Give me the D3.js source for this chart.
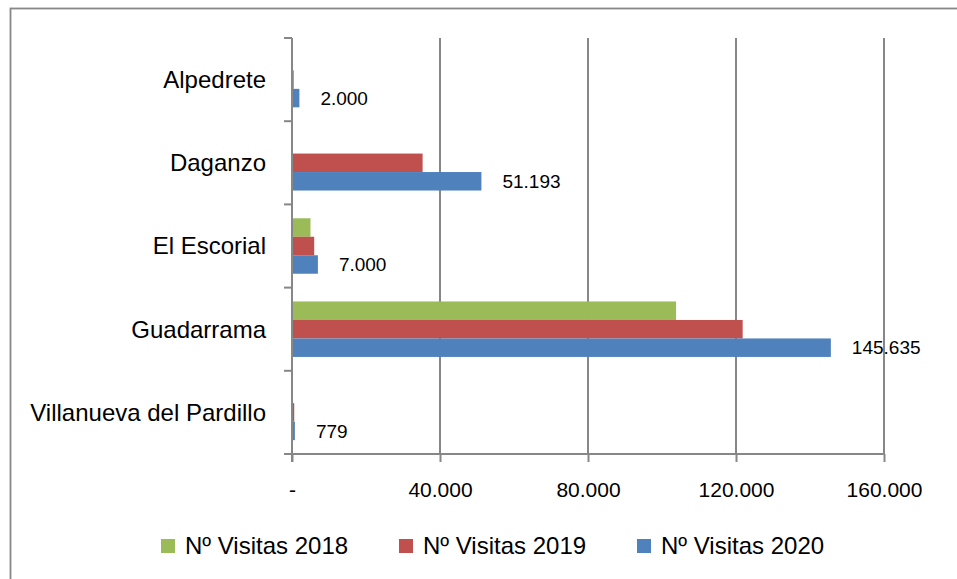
<!DOCTYPE html>
<html>
<head>
<meta charset="utf-8">
<script src="https://cdn.jsdelivr.net/npm/d3@7"></script>
<style>
  html, body { margin: 0; padding: 0; background: #fff; }
  svg { display: block; }
  text { font-family: "Liberation Sans", Arial, sans-serif; fill: #000; }
</style>
</head>
<body>
<svg id="chart" width="957" height="579"></svg>
<script>
// ---- data ----
const categories = ["Alpedrete", "Daganzo", "El Escorial", "Guadarrama", "Villanueva del Pardillo"];
const seriesNames = ["Nº Visitas 2018", "Nº Visitas 2019", "Nº Visitas 2020"];
const visitas2018 = [0, 0, 5000, 103800, 0];
const visitas2019 = [450, 35300, 6000, 121800, 600];
const visitas2020 = [2000, 51193, 7000, 145635, 779];
const xTicks = [0, 40000, 80000, 120000, 160000];
const seriesColors = ["#9BBB59", "#C0504D", "#4F81BD"];

const seriesValues = [visitas2018, visitas2019, visitas2020];

// ---- layout ----
const svg = d3.select("#chart");
const W = 957, H = 579;
const plot = { left: 292, right: 884, top: 38, bottom: 454 };
const gridColor = "#878787";

const es = d3.formatLocale({ decimal: ",", thousands: ".", grouping: [3], currency: ["", "€"] });
const fmt = es.format(",.0f");

// outer border (cropped at right and bottom like the reference)
svg.append("rect")
  .attr("x", 10.5).attr("y", 8.5)
  .attr("width", W + 20).attr("height", H + 20)
  .attr("fill", "none").attr("stroke", gridColor).attr("stroke-width", 1.8);

const x = d3.scaleLinear().domain([0, 160000]).range([plot.left, plot.right]);
const y = d3.scaleBand().domain(categories).range([plot.top, plot.bottom]).padding(0);
const ySub = d3.scaleBand().domain(seriesNames).range([0, y.bandwidth()])
  .paddingInner(0).paddingOuter(0.75);

// gridlines
svg.append("g").selectAll("line")
  .data(xTicks.filter(d => d > 0))
  .join("line")
  .attr("x1", d => x(d)).attr("x2", d => x(d))
  .attr("y1", plot.top).attr("y2", plot.bottom)
  .attr("stroke", gridColor).attr("stroke-width", 2);

// bars
const barG = svg.append("g");
seriesNames.forEach((s, si) => {
  barG.append("g").selectAll("rect")
    .data(categories.map((c, i) => ({ c, v: seriesValues[si][i] })))
    .join("rect")
    .attr("x", x(0))
    .attr("y", d => y(d.c) + ySub(s))
    .attr("width", d => x(d.v) - x(0))
    .attr("height", ySub.bandwidth())
    .attr("fill", seriesColors[si]);
});

// data labels for 2020
svg.append("g").selectAll("text")
  .data(categories.map((c, i) => ({ c, v: visitas2020[i] })))
  .join("text")
  .attr("x", d => x(d.v) + 21)
  .attr("y", d => y(d.c) + ySub(seriesNames[2]) + ySub.bandwidth() / 2)
  .attr("dy", "0.35em")
  .attr("font-size", 19)
  .text(d => fmt(d.v));

// x axis
const xAxis = d3.axisBottom(x)
  .tickValues(xTicks)
  .tickFormat(d => d === 0 ? "-" : fmt(d))
  .tickSizeInner(8).tickSizeOuter(0);
const gx = svg.append("g").attr("transform", `translate(0,${plot.bottom})`).call(xAxis);
gx.select(".domain").attr("stroke", gridColor).attr("stroke-width", 2)
  .attr("d", `M${plot.left - 8},0H${plot.right}`);
gx.selectAll(".tick line").attr("stroke", gridColor).attr("stroke-width", 2);
gx.selectAll(".tick text")
  .attr("y", 43).attr("dy", 0)
  .attr("font-size", 21)
  .style("font-family", '"Liberation Sans", Arial, sans-serif')
  .attr("fill", "#000");

// y axis line + boundary ticks
svg.append("line")
  .attr("x1", plot.left).attr("x2", plot.left)
  .attr("y1", plot.top).attr("y2", plot.bottom + 8)
  .attr("stroke", gridColor).attr("stroke-width", 2);
const bounds = categories.map(c => y(c)).concat([y.range()[1]]);
svg.append("g").selectAll("line")
  .data(bounds)
  .join("line")
  .attr("x1", plot.left - 8).attr("x2", plot.left)
  .attr("y1", d => d).attr("y2", d => d)
  .attr("stroke", gridColor).attr("stroke-width", 2);

// category labels
svg.append("g").selectAll("text")
  .data(categories)
  .join("text")
  .attr("x", 266)
  .attr("y", d => y(d) + y.bandwidth() / 2)
  .attr("dy", "0.35em")
  .attr("text-anchor", "end")
  .attr("font-size", 24)
  .text(d => d);

// legend
const legend = svg.append("g");
const legX0 = 161, legStep = 238, legY = 539;
seriesNames.forEach((s, i) => {
  const g = legend.append("g").attr("transform", `translate(${legX0 + i * legStep},${legY})`);
  g.append("rect").attr("width", 14).attr("height", 14).attr("fill", seriesColors[i]);
  g.append("text").attr("x", 24).attr("y", 7).attr("dy", "0.35em")
    .attr("font-size", 24).text(s);
});
</script>
</body>
</html>
